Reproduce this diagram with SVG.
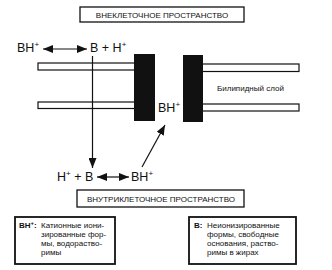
<svg xmlns="http://www.w3.org/2000/svg" width="332" height="270" viewBox="0 0 332 270">
<style>
.box{fill:#fff;stroke:#111;stroke-width:1.3}
.nbox{fill:#fff;stroke:#111;stroke-width:1.8}
.bar{fill:#fff;stroke:#111;stroke-width:1.2}
.blk{fill:#111}
.cap{font-family:"Liberation Sans",Arial,sans-serif;font-size:8px;fill:#111}
.big{font-family:"Liberation Sans",Arial,sans-serif;font-size:12.5px;fill:#111}
.sm{font-family:"Liberation Sans",Arial,sans-serif;font-size:8px;fill:#111}
.b{font-weight:bold}
.ln{stroke:#111;stroke-width:1.2;fill:none}
</style>
<defs>
<marker id="ah" viewBox="0 0 10 8" refX="10" refY="4" markerWidth="10" markerHeight="8" markerUnits="userSpaceOnUse" orient="auto-start-reverse">
<path d="M0,0 L10,4 L0,8 Z" fill="#111"/>
</marker>
</defs>
<g id="extracellular">
<rect class="box" x="80" y="7" width="164" height="15"/>
<text class="cap" x="162" y="17.5" text-anchor="middle">ВНЕКЛЕТОЧНОЕ ПРОСТРАНСТВО</text>
</g>
<g id="membrane">
<rect class="bar" x="38" y="63" width="97" height="7"/>
<rect class="bar" x="38" y="102" width="97" height="6.5"/>
<rect class="bar" x="202" y="64" width="97" height="7.5"/>
<rect class="bar" x="202" y="104" width="97" height="7"/>
<rect class="blk" x="134" y="54" width="21" height="67"/>
<rect class="blk" x="183" y="55" width="20" height="67"/>
<text class="sm" x="217" y="91">Билипидный слой</text>
</g>
<g id="outer-eq">
<text class="big" x="17" y="52">BH<tspan font-size="8" dy="-5">+</tspan></text>
<text class="big" x="90" y="52">B + H<tspan font-size="8" dy="-5">+</tspan></text>
</g>
<g id="pore-bh">
<text class="big" x="158" y="112">BH<tspan font-size="8" dy="-5">+</tspan></text>
</g>
<g id="inner-eq">
<text class="big" x="57" y="181">H<tspan font-size="8" dy="-5">+</tspan><tspan dy="5"> + B</tspan></text>
<text class="big" x="131" y="181">BH<tspan font-size="8" dy="-5">+</tspan></text>
</g>
<g id="intracellular">
<rect class="box" x="77" y="190" width="167" height="17"/>
<text class="cap" x="161" y="202" text-anchor="middle">ВНУТРИКЛЕТОЧНОЕ ПРОСТРАНСТВО</text>
</g>
<g id="note-bh">
<rect class="nbox" x="15" y="217" width="100" height="47"/>
<text class="sm b" x="19" y="228">BH<tspan font-size="6" dy="-3">+</tspan><tspan dy="3">:</tspan></text>
<text class="sm" x="41" y="228">Катионные иони-</text>
<text class="sm" x="41" y="237">зированные фор-</text>
<text class="sm" x="41" y="246">мы, водораство-</text>
<text class="sm" x="41" y="255">римы</text>
</g>
<g id="note-b">
<rect class="nbox" x="189" y="217" width="107" height="47"/>
<text class="sm b" x="194" y="228">B:</text>
<text class="sm" x="207" y="228">Неионизированные</text>
<text class="sm" x="207" y="237">формы, свободные</text>
<text class="sm" x="207" y="246">основания, раство-</text>
<text class="sm" x="207" y="255">римы в жирах</text>
</g>
<g id="connectors">
<line class="ln" x1="43" y1="49" x2="87" y2="49" marker-start="url(#ah)" marker-end="url(#ah)"/>
<line class="ln" x1="92.5" y1="56" x2="92.5" y2="168" marker-end="url(#ah)"/>
<line class="ln" x1="97" y1="177" x2="129" y2="177" marker-start="url(#ah)" marker-end="url(#ah)"/>
<line class="ln" x1="142" y1="167" x2="165" y2="125" marker-end="url(#ah)"/>
</g>
</svg>
